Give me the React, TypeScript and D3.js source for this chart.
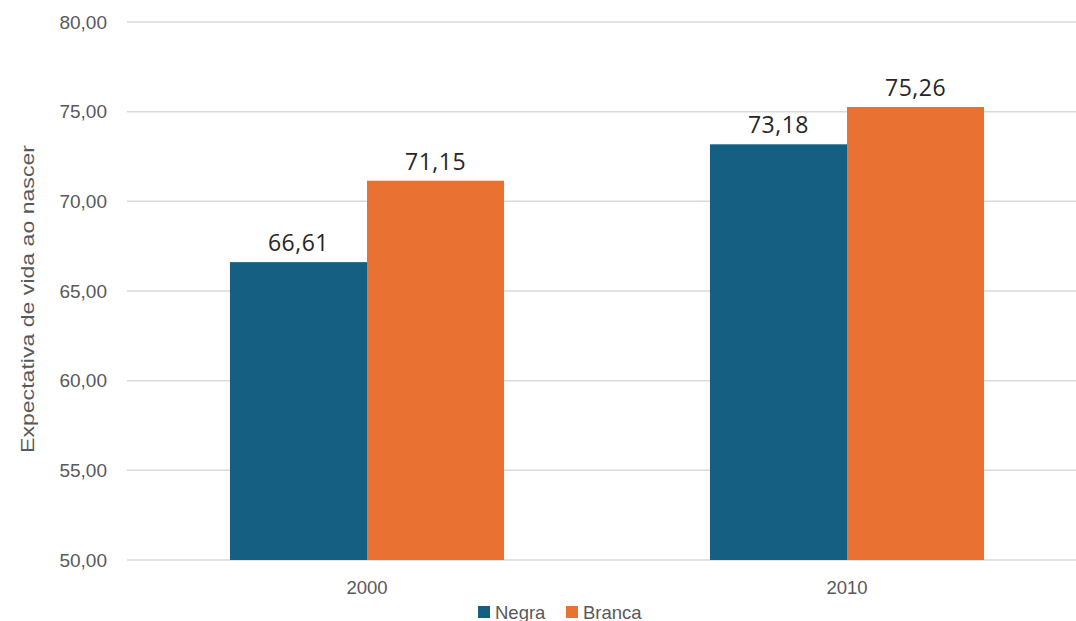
import React from "react";
import * as d3 from "d3";

const categories = ["2000", "2010"];
const seriesNames = ["Negra", "Branca"];
const negra = [66.61, 73.18];
const branca = [71.15, 75.26];
const yTicks = [50, 55, 60, 65, 70, 75, 80];
const colors = ["#156082", "#E97132"];

const W = 1076;
const H = 621;

export default function App() {
  const x = d3.scaleBand<string>().domain(categories).range([127, 1087]).paddingInner(0.429).paddingOuter(0.2145);
  const xs = d3.scaleBand<string>().domain(seriesNames).range([0, x.bandwidth()]);
  const y = d3.scaleLinear().domain([50, 80]).range([560, 22]);
  const fmt = (v: number) => v.toFixed(2).replace(".", ",");
  const series = [negra, branca];
  const font = "Liberation Sans, Arial, sans-serif";

  return (
    <svg width={W} height={H} style={{ position: "absolute", left: 0, top: 0, background: "#fff" }}>
      {yTicks.map((t) => (
        <g key={t}>
          <line x1={127} x2={W} y1={y(t)} y2={y(t)} stroke="#d9d9d9" strokeWidth={1.5} />
          <text x={107} y={y(t)} dy="0.35em" textAnchor="end" fontFamily={font} fontSize={19} fill="#595959">
            {fmt(t)}
          </text>
        </g>
      ))}
      <text
        transform={`translate(34,299) rotate(-90)`}
        textAnchor="middle"
        fontFamily={font}
        fontSize={19}
        fill="#595959"
        textLength={308}
        lengthAdjust="spacingAndGlyphs"
      >
        Expectativa de vida ao nascer
      </text>
      {categories.map((c) => (
        <g key={c}>
          {series.map((s, si) => {
            const ci = categories.indexOf(c);
            const bx = (x(c) as number) + (xs(seriesNames[si]) as number);
            const bw = xs.bandwidth();
            return (
              <g key={si}>
                <rect x={bx} y={y(s[ci])} width={bw} height={y(50) - y(s[ci])} fill={colors[si]} />
                <text
                  x={bx + bw / 2}
                  y={y(s[ci]) - 11}
                  textAnchor="middle"
                  fontFamily="Open Sans, Noto Sans, sans-serif"
                  fontSize={23}
                  fill="#262626"
                  letterSpacing={0.5}
                >
                  {fmt(s[ci])}
                </text>
              </g>
            );
          })}
          <text
            x={(x(c) as number) + x.bandwidth() / 2}
            y={594}
            textAnchor="middle"
            fontFamily={font}
            fontSize={18.5}
            fill="#595959"
          >
            {c}
          </text>
        </g>
      ))}
      <g>
        {seriesNames.map((n, i) => {
          const lx = i === 0 ? 478 : 566;
          return (
            <g key={n}>
              <rect x={lx} y={606} width={12} height={12} fill={colors[i]} />
              <text x={lx + 17} y={619} fontFamily={font} fontSize={18.5} fill="#595959">
                {n}
              </text>
            </g>
          );
        })}
      </g>
    </svg>
  );
}
